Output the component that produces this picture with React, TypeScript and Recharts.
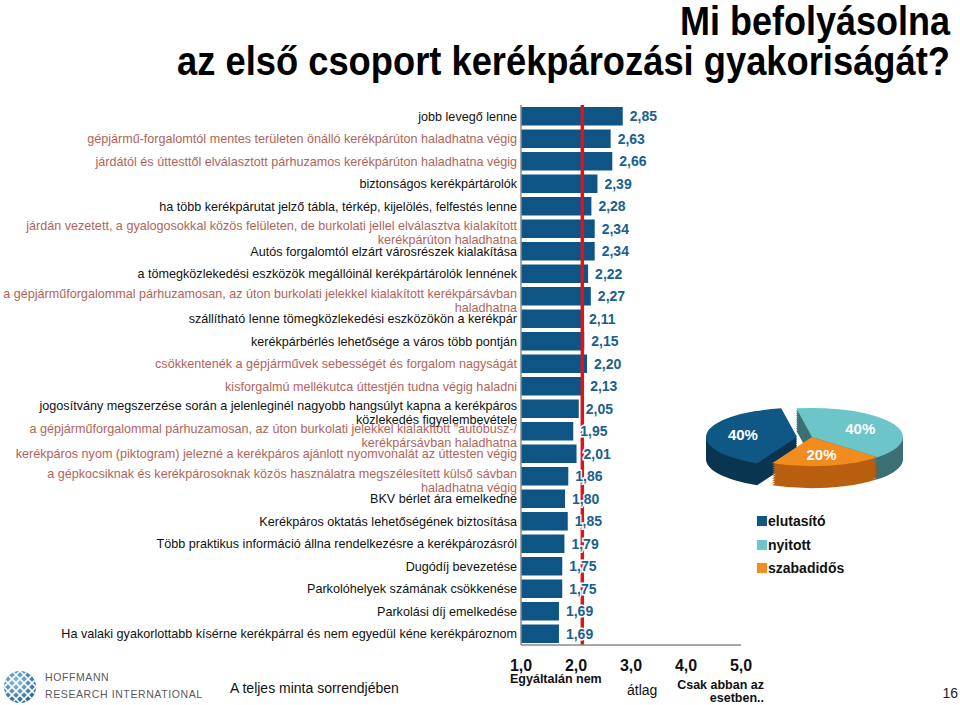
import React from 'react';
import { BarChart, Bar, XAxis, YAxis, ReferenceLine, LabelList, PieChart, Pie, Cell } from 'recharts';

const categories: string[] = [
  'jobb levegő lenne',
  'gépjármű-forgalomtól mentes területen önálló kerékpárúton haladhatna végig',
  'járdától és úttesttől elválasztott párhuzamos kerékpárúton haladhatna végig',
  'biztonságos kerékpártárolók',
  'ha több kerékpárutat jelző tábla, térkép, kijelölés, felfestés lenne',
  'járdán vezetett, a gyalogosokkal közös felületen, de burkolati jellel elválasztva kialakított\nkerékpárúton haladhatna',
  'Autós forgalomtól elzárt városrészek kialakítása',
  'a tömegközlekedési eszközök megállóinál kerékpártárolók lennének',
  'a gépjárműforgalommal párhuzamosan, az úton burkolati jelekkel kialakított kerékpársávban\nhaladhatna',
  'szállítható lenne tömegközlekedési eszközökön a kerékpár',
  'kerékpárbérlés lehetősége a város több pontján',
  'csökkentenék a gépjárművek sebességét és forgalom nagyságát',
  'kisforgalmú mellékutca úttestjén tudna végig haladni',
  'jogosítvány megszerzése során a jelenleginél nagyobb hangsúlyt kapna a kerékpáros\nközlekedés figyelembevétele',
  'a gépjárműforgalommal párhuzamosan, az úton burkolati jelekkel kialakított "autóbusz-/\nkerékpársávban haladhatna',
  'kerékpáros nyom (piktogram) jelezné a kerékpáros ajánlott nyomvonalát az úttesten végig',
  'a gépkocsiknak és kerékpárosoknak közös használatra megszélesített külső sávban\nhaladhatna végig',
  'BKV bérlet ára emelkedne',
  'Kerékpáros oktatás lehetőségének biztosítása',
  'Több praktikus információ állna rendelkezésre a kerékpározásról',
  'Dugódíj bevezetése',
  'Parkolóhelyek számának csökkenése',
  'Parkolási díj emelkedése',
  'Ha valaki gyakorlottabb kísérne kerékpárral és nem egyedül kéne kerékpároznom',
];

const values: number[] = [
  2.85, 2.63, 2.66, 2.39, 2.28, 2.34, 2.34, 2.22, 2.27, 2.11, 2.15, 2.2,
  2.13, 2.05, 1.95, 2.01, 1.86, 1.8, 1.85, 1.79, 1.75, 1.75, 1.69, 1.69,
];

// 1 = infrastructure-type item (shown in brown in the original)
const infraFlags: number[] = [0, 1, 1, 0, 0, 1, 0, 0, 1, 0, 0, 1, 1, 0, 1, 1, 1, 0, 0, 0, 0, 0, 0, 0];

const xTicks: number[] = [1, 2, 3, 4, 5];

const pieNames: string[] = ['elutasító', 'nyitott', 'szabadidős'];
const pieValues: number[] = [40, 40, 20];

const BAR_COLOR = '#0e5585';
const BROWN = '#b0645a';
const FONT = '"Liberation Sans", Arial, Helvetica, sans-serif';
const PIE_TOP = ['#0f5886', '#6cc6c9', '#f28c1e'];
const PIE_SIDE = ['#0a3550', '#3c7075', '#b95f10'];

const data = categories.map((c, i) => ({ name: c, value: values[i], infra: infraFlags[i] }));
const average = values.reduce((a, b) => a + b, 0) / values.length;

const fmt2 = (v: number) => v.toFixed(2).replace('.', ',');
const fmt1 = (v: number) => v.toFixed(1).replace('.', ',');

const YTick = (props: any) => {
  const { x, y, payload } = props;
  const label = String(payload.value);
  const idx = categories.indexOf(label);
  const lines = label.split('\n');
  const lh = 14;
  const color = infraFlags[idx] ? BROWN : '#111';
  const first = -((lines.length - 1) * lh) / 2 + (lines.length > 1 ? 4 : 0) + 4.5;
  return (
    <text x={x} y={y} textAnchor="end" fill={color} fontSize={12.6} fontFamily={FONT}>
      {lines.map((l, i) => (
        <tspan key={i} x={x} dy={i === 0 ? first : lh}>
          {l}
        </tspan>
      ))}
    </text>
  );
};

const XTick = (props: any) => {
  const { x, y, payload } = props;
  return (
    <text x={x} y={y} dy={16} textAnchor="middle" fill="#111" fontSize={16} fontWeight="bold" fontFamily={FONT}>
      {fmt1(Number(payload.value))}
    </text>
  );
};

const ValueLabel = (props: any) => {
  const { x, y, width, height, value } = props;
  return (
    <text
      x={Number(x) + Number(width) + 7}
      y={Number(y) + Number(height) / 2}
      dy="0.36em"
      fill="#1a5f8f"
      stroke="#ffffff"
      strokeWidth={3}
      paintOrder="stroke"
      fontSize={14}
      fontWeight="bold"
      fontFamily={FONT}
    >
      {fmt2(Number(value))}
    </text>
  );
};

// ---------- Pie (pseudo 3D) ----------
const K = 0.32;
const PCX = 122;
const PCY = 147;
const PR = 91;
const EXPLODE = 15;
const START = 244;
const END = -116;
const sideOffsets = [69, 62, 55, 48, 41, 34, 28, 21, 14, 7];
const pieData = pieNames.map((n, i) => ({ name: n, value: pieValues[i] }));

const RAD = Math.PI / 180;
const makeLabel = (only: number[]) => (p: any) => {
  const { cx, cy, midAngle, outerRadius, index, value } = p;
  if (!only.includes(index)) return null;
  const r = outerRadius * 0.6;
  const x = cx + r * Math.cos(-midAngle * RAD);
  const y = cy + r * Math.sin(-midAngle * RAD);
  return (
    <text
      transform={`translate(${x},${y}) scale(1,${1 / K})`}
      textAnchor="middle"
      dominantBaseline="central"
      fill="#fff"
      fontSize={15}
      fontWeight="bold"
      fontFamily={FONT}
    >
      {`${value}%`}
    </text>
  );
};

const PieBlock = () => {
  const layers: React.ReactNode[] = [];
  sideOffsets.forEach((d) => {
    layers.push(
      <Pie
        key={`m${d}`}
        data={pieData}
        dataKey="value"
        cx={PCX}
        cy={PCY + d}
        outerRadius={PR}
        startAngle={START}
        endAngle={END}
        stroke="none"
        isAnimationActive={false}
      >
        {pieData.map((_, i) => (
          <Cell key={i} fill={i === 0 ? 'transparent' : PIE_SIDE[i]} />
        ))}
      </Pie>
    );
    layers.push(
      <Pie
        key={`e${d}`}
        data={pieData}
        dataKey="value"
        cx={PCX - EXPLODE}
        cy={PCY + d}
        outerRadius={PR}
        startAngle={START}
        endAngle={END}
        stroke="none"
        isAnimationActive={false}
      >
        {pieData.map((_, i) => (
          <Cell key={i} fill={i === 0 ? PIE_SIDE[0] : 'transparent'} />
        ))}
      </Pie>
    );
  });
  layers.push(
    <Pie
      key="top-main"
      data={pieData}
      dataKey="value"
      cx={PCX}
      cy={PCY}
      outerRadius={PR}
      startAngle={START}
      endAngle={END}
      stroke="none"
      isAnimationActive={false}
      labelLine={false}
      label={makeLabel([1, 2])}
    >
      {pieData.map((_, i) => (
        <Cell key={i} fill={i === 0 ? 'transparent' : PIE_TOP[i]} />
      ))}
    </Pie>
  );
  layers.push(
    <Pie
      key="top-exploded"
      data={pieData}
      dataKey="value"
      cx={PCX - EXPLODE}
      cy={PCY}
      outerRadius={PR}
      startAngle={START}
      endAngle={END}
      stroke="none"
      isAnimationActive={false}
      labelLine={false}
      label={makeLabel([0])}
    >
      {pieData.map((_, i) => (
        <Cell key={i} fill={i === 0 ? PIE_TOP[0] : 'transparent'} />
      ))}
    </Pie>
  );
  return (
    <div
      style={{
        position: 'absolute',
        left: 690,
        top: 390,
        width: 260,
        height: 320,
        transform: `scaleY(${K})`,
        transformOrigin: 'top left',
      }}
    >
      <PieChart width={260} height={320} margin={{ top: 0, right: 0, bottom: 0, left: 0 }}>
        {layers}
      </PieChart>
    </div>
  );
};

const legendOrder = [0, 1, 2];

export default function App() {
  return (
    <div
      style={{
        position: 'absolute',
        left: 0,
        top: 0,
        width: 960,
        height: 705,
        background: '#fff',
        overflow: 'hidden',
        fontFamily: FONT,
      }}
    >
      <div style={{ position: 'absolute', left: 0, top: 0 }}>
        <BarChart
          width={760}
          height={705}
          data={data}
          layout="vertical"
          margin={{ top: 105, right: 19, bottom: 20, left: 0 }}
        >
          <XAxis
            type="number"
            domain={[1, 5]}
            ticks={xTicks}
            axisLine={{ stroke: '#8a8a8a', strokeWidth: 1.5 }}
            tickLine={false}
            tickSize={6}
            tickMargin={4}
            tick={<XTick />}
            height={40}
            interval={0}
          />
          <YAxis
            type="category"
            dataKey="name"
            width={521}
            axisLine={{ stroke: '#8a8a8a', strokeWidth: 1.5 }}
            tickLine={false}
            tickSize={4}
            tickMargin={0}
            tick={<YTick />}
            interval={0}
          />
          <Bar dataKey="value" fill={BAR_COLOR} barSize={18.5} isAnimationActive={false}>
            <LabelList dataKey="value" content={<ValueLabel />} />
          </Bar>
          <ReferenceLine x={average} stroke="#d9161c" strokeWidth={3.5} />
        </BarChart>
      </div>

      <PieBlock />

      {legendOrder.map((i, k) => (
        <div
          key={i}
          style={{
            position: 'absolute',
            left: 757,
            top: 513 + k * 23.5,
            height: 16,
            display: 'flex',
            alignItems: 'center',
            fontSize: 14,
            fontWeight: 900,
            color: '#111',
            fontFamily: FONT,
          }}
        >
          <span style={{ display: 'inline-block', width: 10, height: 10, background: PIE_TOP[i], marginRight: 1 }} />
          <span>{pieNames[i]}</span>
        </div>
      ))}

      <svg
        width={960}
        height={705}
        style={{ position: 'absolute', left: 0, top: 0, pointerEvents: 'none' }}
      >
        <text x={680} y={35} fontSize={41} fontWeight="bold" fill="#000" fontFamily={FONT} textLength={270} lengthAdjust="spacingAndGlyphs">
          Mi befolyásolna
        </text>
        <text x={177} y={75} fontSize={41} fontWeight="bold" fill="#000" fontFamily={FONT} textLength={773} lengthAdjust="spacingAndGlyphs">
          az első csoport kerékpározási gyakoriságát?
        </text>

        <text x={510} y={683} fontSize={12.5} fontWeight="bold" fill="#111" fontFamily={FONT}>
          Egyáltalán nem
        </text>
        <text x={627} y={695} fontSize={14} fill="#111" fontFamily={FONT}>
          átlag
        </text>
        <text x={764} y={689} fontSize={12.5} fontWeight="bold" fill="#111" fontFamily={FONT} textAnchor="end">
          Csak abban az
        </text>
        <text x={764} y={702} fontSize={12.5} fontWeight="bold" fill="#111" fontFamily={FONT} textAnchor="end">
          esetben..
        </text>

        <text x={230} y={693} fontSize={14} fill="#111" fontFamily={FONT}>
          A teljes minta sorrendjében
        </text>
        <text x={958} y={698} fontSize={14} fill="#222" fontFamily={FONT} textAnchor="end">
          16
        </text>

        <defs>
          <clipPath id="logoClip">
            <circle cx={20} cy={687} r={16} />
          </clipPath>
          <radialGradient id="logoGrad" cx="40%" cy="35%" r="70%">
            <stop offset="0%" stopColor="#8fc3e6" />
            <stop offset="100%" stopColor="#1f5f95" />
          </radialGradient>
        </defs>
        <circle cx={20} cy={687} r={16} fill="url(#logoGrad)" />
        <g clipPath="url(#logoClip)" stroke="#ffffff" strokeWidth={1.6}>
          {[-24, -16, -8, 0, 8, 16, 24].map((o) => (
            <line key={`a${o}`} x1={4 + o} y1={671} x2={36 + o} y2={703} />
          ))}
          {[-24, -16, -8, 0, 8, 16, 24].map((o) => (
            <line key={`b${o}`} x1={36 + o} y1={671} x2={4 + o} y2={703} />
          ))}
        </g>
        <text x={45} y={681} fontSize={10.5} fill="#5a5a5a" fontFamily={FONT} letterSpacing={0.6}>
          HOFFMANN
        </text>
        <text x={45} y={698} fontSize={10.5} fill="#5a5a5a" fontFamily={FONT} letterSpacing={0.6}>
          RESEARCH INTERNATIONAL
        </text>
      </svg>
    </div>
  );
}
